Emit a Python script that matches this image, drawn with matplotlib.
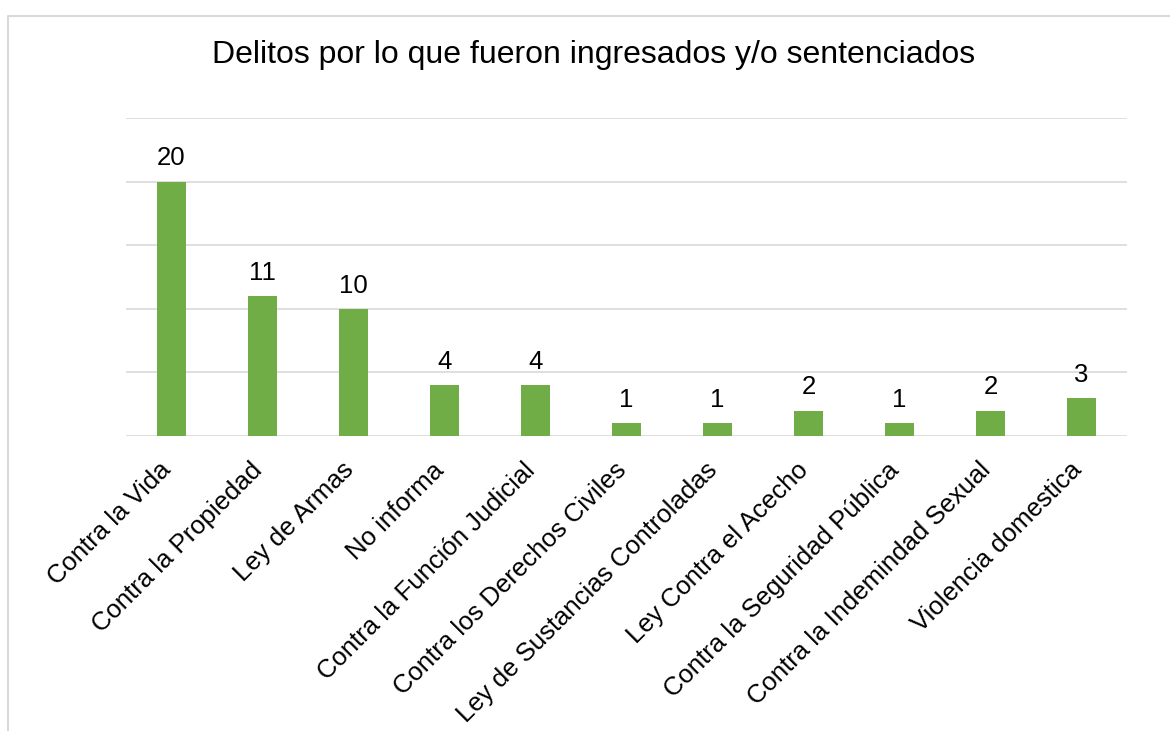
import matplotlib
matplotlib.use("Agg")
import matplotlib.pyplot as plt
from matplotlib.lines import Line2D
from matplotlib.transforms import ScaledTranslation

categories = ["Contra la Vida", "Contra la Propiedad", "Ley de Armas", "No informa",
              "Contra la Función Judicial", "Contra los Derechos Civiles",
              "Ley de Sustancias Controladas", "Ley Contra el Acecho",
              "Contra la Seguridad Pública", "Contra la Indemindad Sexual",
              "Violencia domestica"]
values = [20, 11, 10, 4, 4, 1, 1, 2, 1, 2, 3]
title = "Delitos por lo que fueron ingresados y/o sentenciados"

plt.rcParams['font.family'] = ['Liberation Sans', 'DejaVu Sans']

W, H = 1170, 731
fig = plt.figure(figsize=(W/100, H/100), dpi=100)
ax = fig.add_axes([126/W, 1 - 436/H, (1127-126)/W, (436-118)/H])

x = list(range(len(categories)))
ax.bar(x, values, width=0.31, color='#70AD47', zorder=3)
ax.set_xlim(-0.5, len(categories) - 0.5)
ax.set_ylim(0, 25)
ax.set_yticks([0, 5, 10, 15, 20, 25])
ax.yaxis.grid(True, color='#d9d9d9', linewidth=1.2, zorder=0)
ax.tick_params(axis='y', left=False, labelleft=False)
ax.tick_params(axis='x', bottom=False, length=0, pad=14)
for s in ax.spines.values():
    s.set_visible(False)

ax.set_xticks(x)
ax.set_xticklabels(categories, rotation=45, ha='right', rotation_mode='anchor',
                   fontsize=18.5, va='center')
offset = ScaledTranslation(-4/100, -11/100, fig.dpi_scale_trans)
for lbl in ax.get_xticklabels():
    lbl.set_transform(lbl.get_transform() + offset)

for xi, v in zip(x, values):
    ax.annotate(str(v), (xi, v), xytext=(0, 8), textcoords='offset points',
                ha='center', va='bottom', fontsize=18.5, color='black')

fig.text(594/W, 1 - 55/H, title, ha='center', va='center', fontsize=23, color='black')

fig.add_artist(Line2D([8/W, 8/W, 1.0], [0, 1 - 16/H, 1 - 16/H],
                      transform=fig.transFigure, color='#d9d9d9', linewidth=1.5))

fig.savefig("out.png", dpi=100)
